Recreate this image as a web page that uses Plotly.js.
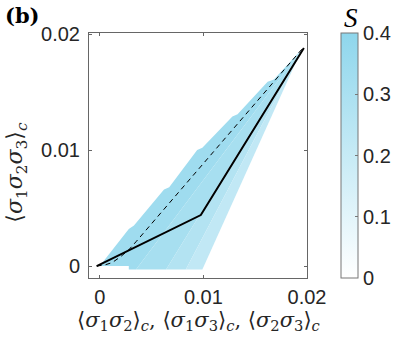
<!DOCTYPE html>
<html>
<head>
<meta charset="utf-8">
<script src="https://cdn.plot.ly/plotly-3.0.1.min.js"></script>
<style>
  html, body { margin: 0; padding: 0; background: #fff; }
  #chart { width: 407px; height: 339px; }
</style>
</head>
<body>
<div id="chart"></div>
<script>
// tip where all the wedges meet
const tipX = 0.0195, tipY = 0.0187;

// stepped upper edge of the region (left boundary)
const edgeX = [0, 0.0028, 0.0033, 0.0062, 0.0067, 0.0094, 0.0099, 0.0128, 0.0133, 0.0162, 0.0168];
const edgeY = [0, 0.0032, 0.0035, 0.0066, 0.0068, 0.0100, 0.0102, 0.0129, 0.0131, 0.0159, 0.0161];

// wedges: bottom corners and S value of each
const bandLeft  = [0.0028, 0.0035, 0.0064, 0.0083];
const bandRight = [0.0035, 0.0064, 0.0083, 0.0099];
const bandS     = [0.34, 0.31, 0.27, 0.22];
const bottomY = -0.0003;

// theory lines
const dashX = [-0.0003, 0.0005, 0.0012, 0.002, 0.0028, 0.0035, 0.0195];
const dashY = [0, 0.0001, 0.0003, 0.0008, 0.0014, 0.0021, 0.0187];
const solidX = [-0.0003, 0.00975, 0.0197];
const solidY = [0, 0.0044, 0.0188];

const sMax = 0.4;
const colorLo = [255, 255, 255], colorHi = [142, 214, 236];
const scale = [[0, 'rgb(255,255,255)'], [1, 'rgb(142,214,236)']];

function sColor(s) {
    let f = Math.max(0, Math.min(1, s / sMax));
    let c = colorLo.map(function(lo, i) { return Math.round(lo + f * (colorHi[i] - lo)); });
    return 'rgb(' + c.join(',') + ')';
}

let traces = [];

// first (left) wedge follows the stepped edge
let x0 = edgeX.concat([tipX, bandRight[0], bandLeft[0], bandLeft[0], 0]);
let y0 = edgeY.concat([tipY, bottomY, bottomY, 0, 0]);
traces.push({
    x: x0, y: y0, mode: 'lines', fill: 'toself',
    fillcolor: sColor(bandS[0]), line: {width: 0}, hoverinfo: 'skip', showlegend: false
});

for (let i = 1; i < bandS.length; i++) {
    traces.push({
        x: [tipX, bandLeft[i], bandRight[i], tipX],
        y: [tipY, bottomY, bottomY, tipY],
        mode: 'lines', fill: 'toself',
        fillcolor: sColor(bandS[i]), line: {width: 0}, hoverinfo: 'skip', showlegend: false
    });
}

traces.push({
    x: dashX, y: dashY, mode: 'lines',
    line: {color: '#000', width: 1, dash: '5px,4px'}, showlegend: false
});
traces.push({
    x: solidX, y: solidY, mode: 'lines',
    line: {color: '#000', width: 2}, showlegend: false
});

const tickFont = {family: 'Liberation Sans, Arial, sans-serif', size: 20, color: '#262626'};
const titleFont = {family: 'DejaVu Serif, Liberation Serif, serif', size: 21, color: '#262626'};

// colorbar carrier
traces.push({
    x: [null], y: [null], mode: 'markers', showlegend: false, hoverinfo: 'skip',
    marker: {
        color: [0], cmin: 0, cmax: sMax, colorscale: scale, showscale: true,
        colorbar: {
            x: 1.157, xanchor: 'left', y: 0.5, yanchor: 'middle',
            len: 1, lenmode: 'fraction', thickness: 17, thicknessmode: 'pixels',
            outlinewidth: 1, outlinecolor: '#777', borderwidth: 0, xpad: 0, ypad: 0,
            tickvals: [0, 0.1, 0.2, 0.3, 0.4], ticktext: ['0', '0.1', '0.2', '0.3', '0.4'],
            ticks: 'inside', ticklen: 3, tickcolor: '#777', ticklabelstandoff: 2,
            tickfont: tickFont
        }
    }
});

let layout = {
    width: 407, height: 339,
    margin: {l: 89, r: 95, t: 33, b: 61},
    paper_bgcolor: '#fff', plot_bgcolor: '#fff',
    xaxis: {
        range: [-0.00104, 0.0200], showgrid: false, zeroline: false,
        tickvals: [0, 0.01, 0.02], ticktext: ['0', '0.01', '0.02'],
        ticks: 'inside', ticklen: 3, tickcolor: '#666',
        showline: true, linecolor: '#666', linewidth: 1, mirror: 'allticks',
        tickfont: tickFont, ticklabelstandoff: 1
    },
    yaxis: {
        range: [-0.00103, 0.0201], showgrid: false, zeroline: false,
        tickvals: [0, 0.01, 0.02], ticktext: ['0', '0.01', '0.02'],
        ticks: 'inside', ticklen: 3, tickcolor: '#666',
        showline: true, linecolor: '#666', linewidth: 1, mirror: 'allticks',
        tickfont: tickFont, ticklabelstandoff: 4
    },
    annotations: [
        {text: '⟨<i>σ</i><sub>1</sub><i>σ</i><sub>2</sub>⟩<sub><i>c</i></sub>, ⟨<i>σ</i><sub>1</sub><i>σ</i><sub>3</sub>⟩<sub><i>c</i></sub>, ⟨<i>σ</i><sub>2</sub><i>σ</i><sub>3</sub>⟩<sub><i>c</i></sub>',
         xref: 'paper', yref: 'paper', x: 0.5, y: -0.235, xanchor: 'center', yanchor: 'bottom',
         showarrow: false, font: titleFont},
        {text: '⟨<i>σ</i><sub>1</sub><i>σ</i><sub>2</sub><i>σ</i><sub>3</sub>⟩<sub><i>c</i></sub>',
         xref: 'paper', yref: 'paper', x: -0.33, y: 0.43, xanchor: 'center', yanchor: 'middle',
         textangle: -90, showarrow: false, font: {family: titleFont.family, size: 22, color: titleFont.color}},
        {text: '<b>(b)</b>', xref: 'paper', yref: 'paper', x: -0.395, y: 1.13,
         xanchor: 'left', yanchor: 'top', showarrow: false,
         font: {family: 'DejaVu Serif, Liberation Serif, serif', size: 21, color: '#000'}},
        {text: '<i>S</i>', xref: 'paper', yref: 'paper', x: 1.2, y: 0.99,
         xanchor: 'center', yanchor: 'bottom', showarrow: false,
         font: {family: 'Liberation Serif, DejaVu Serif, serif', size: 27, color: '#000'}}
    ]
};

Plotly.newPlot('chart', traces, layout, {displayModeBar: false, staticPlot: true});
</script>
</body>
</html>
